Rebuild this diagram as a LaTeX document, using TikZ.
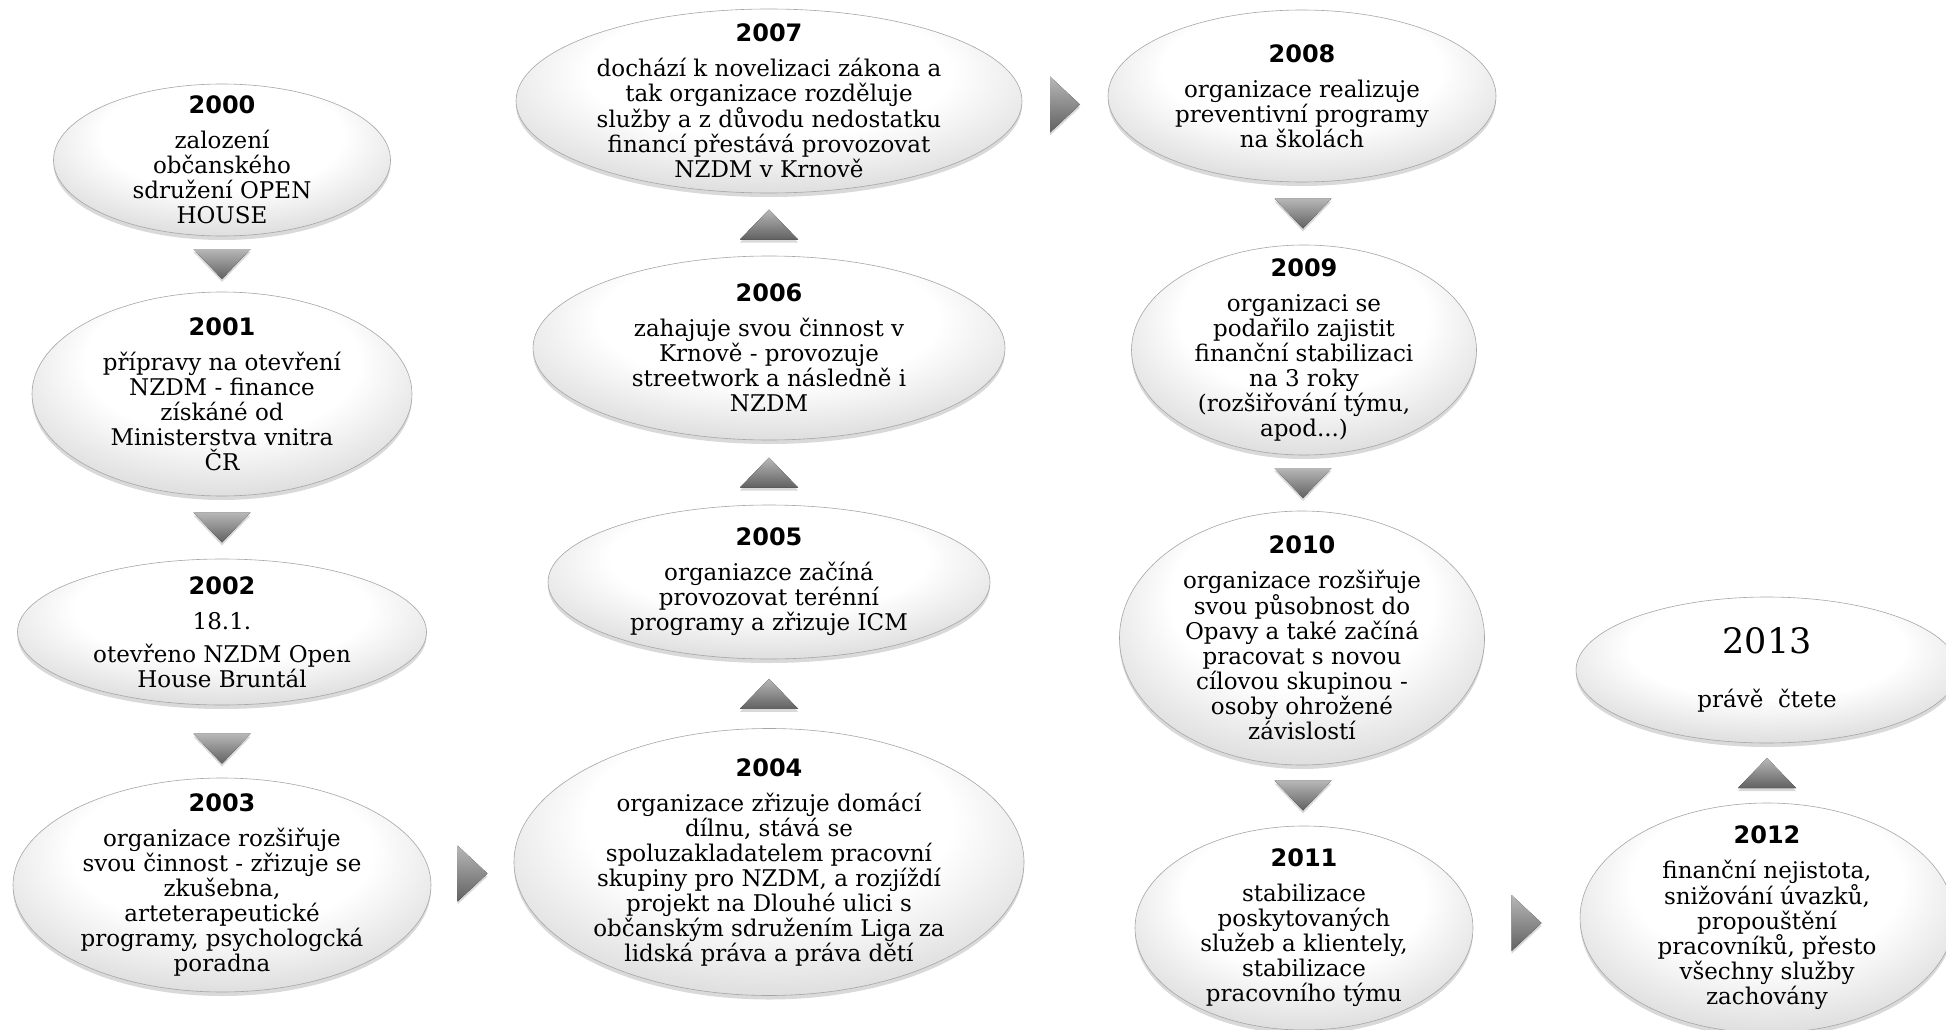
\documentclass[tikz,border=0pt]{standalone}
\usepackage{fontspec}
\setmainfont{DejaVu Serif}
\newfontfamily\yearfont{DejaVu Sans}
\usetikzlibrary{shapes.geometric,shadows,calc}

\pgfdeclareradialshading{glossy}{\pgfpoint{0bp}{12bp}}{color(0bp)=(white); color(18bp)=(white); color(36bp)=(black!19); color(46bp)=(black!36); color(52bp)=(black!52)}

\tikzset{
  bubble/.style={ellipse, shading=glossy, draw=black!35, line width=.6pt, inner sep=0pt,
    drop shadow={opacity=.3, shadow xshift=0pt, shadow yshift=-4pt}},
  txt/.style={align=center, inner sep=0pt, font=\fontsize{23}{25}\selectfont},
  trishade/.style={top color=black!28, bottom color=black!62,
    drop shadow={opacity=.3, shadow xshift=0pt, shadow yshift=-3pt}},
  pics/tridown/.style={code={\fill[trishade] (-28.5,-15) -- (28.5,-15) -- (0,15) -- cycle;}},
  pics/triup/.style={code={\fill[trishade] (-29,15) -- (29,15) -- (0,-15) -- cycle;}},
  pics/triright/.style={code={\fill[trishade] (-15,-28) -- (15,0) -- (-15,28) -- cycle;}}
}
\newcommand\yearline[1]{{\yearfont\bfseries\fontsize{24}{25}\selectfont #1}\\[10pt]}

\begin{document}
\begin{tikzpicture}[x=1pt,y=-1pt]
  \useasboundingbox (0,0) rectangle (1946,1030);
  % Ellipsen
  \node[bubble, minimum width=337, minimum height=152] (e2000) at (222,160) {};
  \node[bubble, minimum width=380, minimum height=204] (e2001) at (222,394) {};
  \node[bubble, minimum width=409, minimum height=146] (e2002) at (222,632) {};
  \node[bubble, minimum width=418, minimum height=214] (e2003) at (222,885) {};
  \node[bubble, minimum width=510, minimum height=267] (e2004) at (769,862) {};
  \node[bubble, minimum width=442, minimum height=154] (e2005) at (769,582) {};
  \node[bubble, minimum width=472, minimum height=184] (e2006) at (769,348) {};
  \node[bubble, minimum width=506, minimum height=184] (e2007) at (769,101) {};
  \node[bubble, minimum width=388, minimum height=172] (e2008) at (1302,96) {};
  \node[bubble, minimum width=345, minimum height=210] (e2009) at (1304,350) {};
  \node[bubble, minimum width=365, minimum height=254] (e2010) at (1302,638) {};
  \node[bubble, minimum width=338, minimum height=204] (e2011) at (1304,928) {};
  \node[bubble, minimum width=374, minimum height=230] (e2012) at (1767,918) {};
  \node[bubble, minimum width=382, minimum height=146] (e2013) at (1767,670) {};
  % Texte
  \node[txt] (t2000) at (e2000) {\yearline{2000}zalozen\'i\\ občanského\\ sdružení OPEN\\ HOUSE};
  \node[txt] (t2001) at (e2001) {\yearline{2001}přípravy na otevření\\ NZDM - finance\\ získáné od\\ Ministerstva vnitra\\ ČR};
  \node[txt] (t2002) at (e2002) {\yearline{2002}18.1.\\[8pt] otevřeno NZDM Open\\ House Bruntál};
  \node[txt] (t2003) at (e2003) {\yearline{2003}organizace rozšiřuje\\ svou činnost - zřizuje se\\ zkušebna,\\ arteterapeutické\\ programy, psychologcká\\ poradna};
  \node[txt] (t2004) at (e2004) {\yearline{2004}organizace zřizuje domácí\\ dílnu, stává se\\ spoluzakladatelem pracovní\\ skupiny pro NZDM, a rozjíždí\\ projekt na Dlouhé ulici s\\ občanským sdružením Liga za\\ lidská práva a práva dětí};
  \node[txt] (t2005) at (e2005) {\yearline{2005}organiazce začíná\\ provozovat terénní\\ programy a zřizuje ICM};
  \node[txt] (t2006) at (e2006) {\yearline{2006}zahajuje svou činnost v\\ Krnově - provozuje\\ streetwork a následně i\\ NZDM};
  \node[txt] (t2007) at (e2007) {\yearline{2007}dochází k novelizaci zákona a\\ tak organizace rozděluje\\ služby a z důvodu nedostatku\\ financí přestává provozovat\\ NZDM v Krnově};
  \node[txt] (t2008) at (e2008) {\yearline{2008}organizace realizuje\\ preventivní programy\\ na školách};
  \node[txt] (t2009) at (e2009) {\yearline{2009}organizaci se\\ podařilo zajistit\\ finanční stabilizaci\\ na 3 roky\\ (rozšiřování týmu,\\ apod...)};
  \node[txt] (t2010) at (e2010) {\yearline{2010}organizace rozšiřuje\\ svou působnost do\\ Opavy a také začíná\\ pracovat s novou\\ cílovou skupinou -\\ osoby ohrožené\\ závislostí};
  \node[txt] (t2011) at (e2011) {\yearline{2011}stabilizace\\ poskytovaných\\ služeb a klientely,\\ stabilizace\\ pracovního týmu};
  \node[txt] (t2012) at (e2012) {\yearline{2012}finanční nejistota,\\ snižování úvazků,\\ propouštění\\ pracovníků, přesto\\ všechny služby\\ zachovány};
  \node[txt] (t2013) at (e2013) {{\fontsize{35}{38}\selectfont 2013}\\[29pt] právě~ čtete};
  % Pfeile
  \path (e2000.south) -- (e2001.north) coordinate[midway] (d1);
  \path (e2001.south) -- (e2002.north) coordinate[midway] (d2);
  \path (e2002.south) -- (e2003.north) coordinate[pos=.6] (d3);
  \path (e2003.east) -- (e2004.west) coordinate[midway] (r1);
  \path (e2004.north) -- (e2005.south) coordinate[midway] (u1);
  \path (e2005.north) -- (e2006.south) coordinate[midway] (u2);
  \path (e2006.north) -- (e2007.south) coordinate[midway] (u3);
  \path (e2007.east) -- (e2008.west) coordinate[midway, yshift=-6pt] (r2);
  \path (e2008.south) -- (e2009.north) coordinate[midway] (d4);
  \path (e2009.south) -- (e2010.north) coordinate[midway] (d5);
  \path (e2010.south) -- (e2011.north) coordinate[midway] (d6);
  \path (e2011.east) -- (e2012.west) coordinate[midway] (r3);
  \path (e2012.north) -- (e2013.south) coordinate[midway] (u4);
  \foreach \c in {d1,d2,d3,d4,d5,d6} { \pic at (\c) {tridown}; }
  \foreach \c in {u1,u2,u3,u4} { \pic at (\c) {triup}; }
  \foreach \c in {r1,r2,r3} { \pic at (\c) {triright}; }
\end{tikzpicture}
\end{document}
